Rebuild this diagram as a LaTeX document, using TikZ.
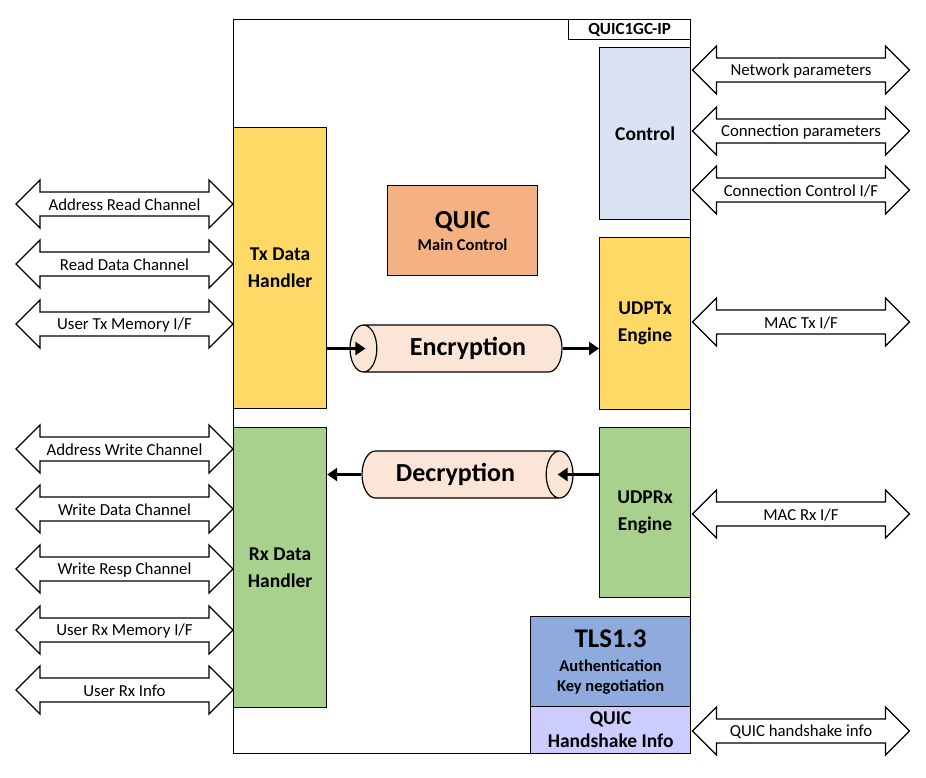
\documentclass[tikz,border=0pt]{standalone}
\usepackage{fontspec}
\setmainfont{Carlito}
\usetikzlibrary{shapes.geometric,arrows.meta}
\definecolor{txyel}{HTML}{FFD966}
\definecolor{rxgreen}{HTML}{A9D18E}
\definecolor{ctrlblue}{HTML}{DAE3F3}
\definecolor{mainorange}{HTML}{F4B183}
\definecolor{cylfill}{HTML}{FBE5D6}
\definecolor{tlsblue}{HTML}{8FAADC}
\definecolor{hslav}{HTML}{CCCCFF}
\begin{document}
\begin{tikzpicture}[x=1pt,y=-1pt,
  box/.style={draw=black, line width=1.2pt, align=center, inner sep=0pt, anchor=north west,
    font=\fontsize{19.5}{27}\selectfont\bfseries},
  flow/.style={line width=3pt, -{Triangle[length=10pt,width=13pt]}},
  arlab/.style={font=\fontsize{16.8}{19}\selectfont},
  cyl/.style={cylinder, draw=black, line width=1.2pt, fill=cylfill, minimum height=212pt,
    minimum width=47pt, aspect=1.2, inner sep=0pt, font=\fontsize{26}{30}\selectfont\bfseries},
  pics/dblarrow/.style={code={
    \draw[line width=1.2pt, fill=white] (-108.5,0) -- (-84.5,-24) -- (-84.5,-12) -- (84.5,-12)
      -- (84.5,-24) -- (108.5,0) -- (84.5,24) -- (84.5,12) -- (-84.5,12) -- (-84.5,24) -- cycle;
    \node[arlab] (-lab) at (0,1) {#1};
  }}]
\useasboundingbox[fill=white] (0,0) rectangle (926,777);

% main IP block
\node[draw=black, line width=1.2pt, minimum width=457pt, minimum height=734pt, anchor=north west, inner sep=0pt] (ip) at (233,19) {};
\node[box, anchor=north east, minimum width=122pt, minimum height=20pt, font=\fontsize{17}{20}\selectfont\bfseries] (iplabel) at (ip.north east) {QUIC1GC-IP};

% blocks
\node[box, fill=ctrlblue, minimum width=91pt, minimum height=172pt] (ctrl) at (599,47) {Control};
\node[box, fill=txyel, minimum width=93pt, minimum height=281pt] (tx) at (233,127) {Tx Data\\Handler};
\node[box, fill=rxgreen, minimum width=93pt, minimum height=280pt] (rx) at (233,427) {Rx Data\\Handler};
\node[box, fill=txyel, minimum width=91pt, minimum height=172pt] (udptx) at (599,237) {UDPTx\\Engine};
\node[box, fill=rxgreen, minimum width=91pt, minimum height=170pt] (udprx) at (599,427) {UDPRx\\Engine};
\node[box, fill=mainorange, minimum width=150pt, minimum height=90pt, font=\fontsize{16.5}{20}\selectfont\bfseries] (qmain) at (387,185)
  {{\fontsize{26}{26}\selectfont QUIC}\\[2pt]Main Control};
\node[box, fill=tlsblue, minimum width=160pt, minimum height=90pt, font=\fontsize{16.5}{20}\selectfont\bfseries] (tls) at (530,616)
  {{\fontsize{27}{27}\selectfont TLS1.3}\\[4pt]Authentication\\Key negotiation};
\node[box, fill=hslav, minimum width=160pt, minimum height=47pt, font=\fontsize{19.5}{23}\selectfont\bfseries] (hs) at (530,706)
  {QUIC\\Handshake Info};

% cylinders
\node[cyl, shape border rotate=180] (enc) at (463,348.5) {\hspace*{10pt}Encryption};
\node[cyl, shape border rotate=0, minimum height=211pt] (dec) at (460.5,474.5) {Decryption\hspace*{10pt}};

% data flow
\draw[flow, shorten >=-16pt] (tx.east |- enc.center) -- (enc.top);
\draw[flow] (enc.bottom) -- (udptx.west |- enc.bottom);
\draw[flow, shorten >=-16pt] (udprx.west |- dec.center) -- (dec.top);
\draw[flow] (dec.bottom) -- (rx.east |- dec.bottom);

% left interfaces
\pic (ar) at (124.5,204) {dblarrow={Address Read Channel}};
\pic (rd) at (124.5,264) {dblarrow={Read Data Channel}};
\pic (utx) at (124.5,324) {dblarrow={User Tx Memory I/F}};
\pic (aw) at (124.5,449) {dblarrow={Address Write Channel}};
\pic (wd) at (124.5,509) {dblarrow={Write Data Channel}};
\pic (wr) at (124.5,569) {dblarrow={Write Resp Channel}};
\pic (urx) at (124.5,630) {dblarrow={User Rx Memory I/F}};
\pic (uri) at (124.5,690) {dblarrow={User Rx Info}};

% right interfaces
\pic (np) at (801,70) {dblarrow={Network parameters}};
\pic (cp) at (801,131) {dblarrow={Connection parameters}};
\pic (cc) at (801,190) {dblarrow={Connection Control I/F}};
\pic (mtx) at (801,322) {dblarrow={MAC Tx I/F}};
\pic (mrx) at (801,514) {dblarrow={MAC Rx I/F}};
\pic (qhs) at (801,731) {dblarrow={QUIC handshake info}};
\end{tikzpicture}
\end{document}
